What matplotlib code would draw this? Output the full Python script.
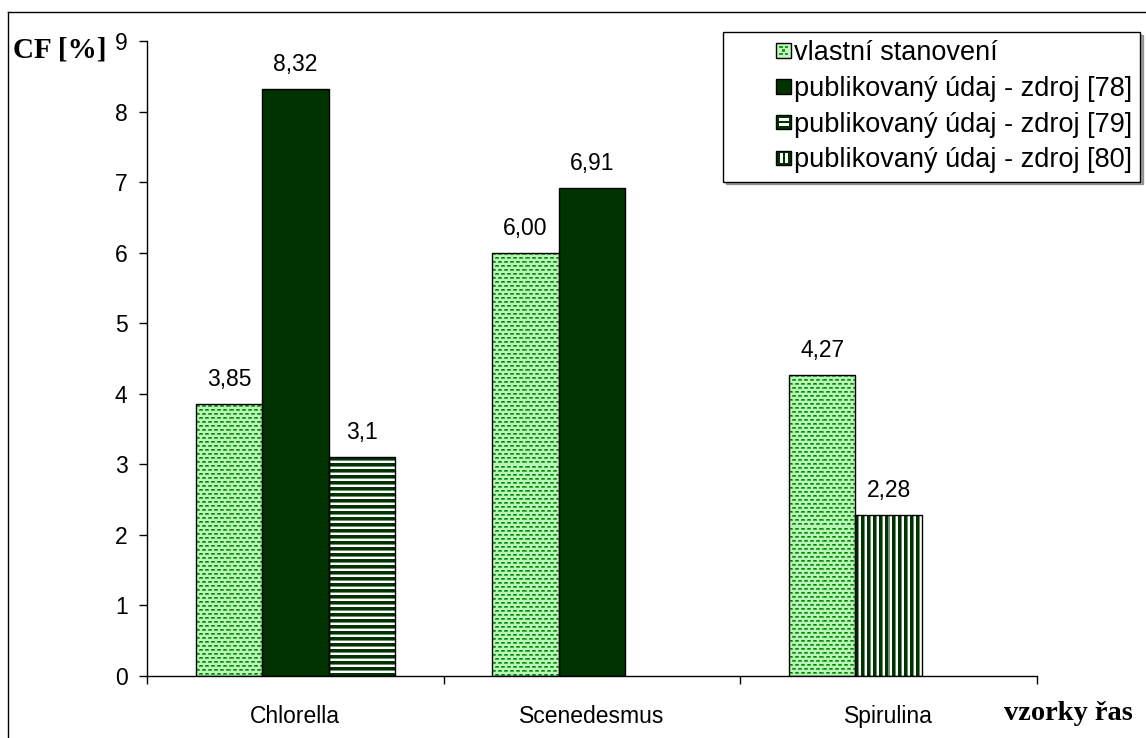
import numpy as np
import matplotlib
matplotlib.use("Agg")
import matplotlib.pyplot as plt
from matplotlib.lines import Line2D
from matplotlib.patches import Rectangle
from matplotlib.legend_handler import HandlerBase

# ---- data -------------------------------------------------------------
categories = ["Chlorella", "Scenedesmus", "Spirulina"]
series_names = [
    "vlastní stanovení",
    "publikovaný údaj - zdroj [78]",
    "publikovaný údaj - zdroj [79]",
    "publikovaný údaj - zdroj [80]",
]
own_values = [3.85, 6.00, 4.27]
src78_values = [8.32, 6.91, None]
src79_values = [3.1, None, None]
src80_values = [None, None, 2.28]
# decimals shown in each value label
own_decimals = [2, 2, 2]
src78_decimals = [2, 2, None]
src79_decimals = [1, None, None]
src80_decimals = [None, None, 2]
y_ticks = [0, 1, 2, 3, 4, 5, 6, 7, 8, 9]

series_values = [own_values, src78_values, src79_values, src80_values]
series_decimals = [own_decimals, src78_decimals, src79_decimals, src80_decimals]
series_fill = ["dots", "solid", "hstripes", "vstripes"]

DARK = (0, 51, 0)
DARK_HEX = "#003300"

# ---- figure -----------------------------------------------------------
W, H, DPI = 1146, 738, 100
fig = plt.figure(figsize=(W / DPI, H / DPI), dpi=DPI, facecolor="white")
ax = fig.add_axes([147 / W, 1 - 676 / H, (1037 - 147) / W, (676 - 41) / H])
ax.set_xlim(-0.5, len(categories) - 0.5)
ax.set_ylim(0, 9)

SANS = ["Liberation Sans", "DejaVu Sans"]
SERIF = ["Liberation Serif", "DejaVu Serif"]
TXT = 16.5


def texture(kind, h, w):
    yy, xx = np.mgrid[0:h, 0:w]
    img = np.zeros((h, w, 3), dtype=np.uint8)
    if kind == "dots":
        img[:] = (185, 245, 185)
        row = yy // 4
        shift = 3 * (row % 2)
        xm = (xx + shift) % 6
        ym = yy % 4
        dash = (ym >= 1) & (ym <= 2) & (xm <= 3)
        img[dash] = (60, 175, 60)
        core = (ym == 1) & (xm >= 1) & (xm <= 2)
        img[core] = (0, 125, 0)
    elif kind == "hstripes":
        img[:] = (255, 255, 255)
        m = yy % 6
        img[m <= 2] = DARK
        img[m == 3] = (110, 140, 110)
    elif kind == "vstripes":
        img[:] = (255, 255, 255)
        m = xx % 6
        img[m <= 2] = DARK
        img[m == 3] = (110, 140, 110)
    else:
        img[:] = DARK
    return img


width = 0.224
for ci, cat in enumerate(categories):
    slot = -1
    for si, vals in enumerate(series_values):
        v = vals[ci]
        if v is None:
            continue
        x = ci + slot * width
        slot += 1
        bar = ax.bar(x, v, width=width, facecolor="none", edgecolor="black",
                     linewidth=1.0, zorder=3)[0]
        # fill the bar with its pattern, clipped to the bar outline
        (px0, py0), (px1, py1) = ax.transData.transform([(x - width / 2, 0), (x + width / 2, v)])
        pw, ph = max(int(round(px1 - px0)), 1), max(int(round(py1 - py0)), 1)
        im = ax.imshow(texture(series_fill[si], ph, pw),
                       extent=(x - width / 2, x + width / 2, 0, v),
                       origin="upper", interpolation="nearest", aspect="auto", zorder=2)
        im.set_clip_path(bar)
        d = series_decimals[si][ci]
        label = f"{v:.{d}f}".replace(".", ",")
        ax.annotate(label, xy=(x, v), xytext=(0, 13), textcoords="offset pixels",
                    ha="center", va="bottom", fontsize=TXT, family=SANS, color="black")

ax.set_xlim(-0.5, len(categories) - 0.5)
ax.set_ylim(0, 9)

# ---- axes styling -----------------------------------------------------
for s in ("top", "right"):
    ax.spines[s].set_visible(False)
for s in ("left", "bottom"):
    ax.spines[s].set_linewidth(1.0)
    ax.spines[s].set_color("black")

ax.set_yticks(y_ticks)
ax.set_yticklabels([str(t) for t in y_ticks], family=SANS, fontsize=TXT)
ax.tick_params(axis="y", direction="out", length=6, width=1, pad=8)

ax.set_xticks(np.arange(len(categories) + 1) - 0.5)
ax.set_xticklabels([])
ax.set_xticks(np.arange(len(categories)), minor=True)
ax.set_xticklabels(categories, minor=True, family=SANS, fontsize=TXT)
ax.tick_params(axis="x", which="major", direction="out", length=6, width=1)
ax.tick_params(axis="x", which="minor", length=0, pad=21)

fig.text(13 / W, 1 - 50 / H, "CF [%]", family=SERIF, fontweight="bold",
         fontsize=21, ha="left", va="center")
fig.text(1133 / W, 1 - 713 / H, "vzorky řas", family=SERIF, fontweight="bold",
         fontsize=20.5, ha="right", va="center")


# ---- legend -----------------------------------------------------------
class PatternHandler(HandlerBase):
    def create_artists(self, legend, orig_handle, xdescent, ydescent,
                       width, height, fontsize, trans):
        kind = orig_handle.get_label()
        s = 10.5
        x0 = -xdescent + width - s
        y0 = -ydescent + (height - s) / 2
        arts = []
        if kind == "dots":
            arts.append(Rectangle((x0, y0), s, s, facecolor="#c0f5c0",
                                  edgecolor="black", lw=1, transform=trans))
            for fx, fy in [(0.18, 0.18), (0.58, 0.18), (0.38, 0.43), (0.18, 0.68), (0.58, 0.68)]:
                arts.append(Rectangle((x0 + fx * s, y0 + fy * s), 0.24 * s, 0.16 * s,
                                      facecolor="#1f9a1f", edgecolor="none", transform=trans))
        else:
            arts.append(Rectangle((x0, y0), s, s, facecolor=DARK_HEX,
                                  edgecolor="black", lw=1, transform=trans))
            if kind == "hstripes":
                for fy in (0.22, 0.58):
                    arts.append(Rectangle((x0 + 0.15 * s, y0 + fy * s), 0.7 * s, 0.2 * s,
                                          facecolor="white", edgecolor="none", transform=trans))
            elif kind == "vstripes":
                for fx in (0.22, 0.58):
                    arts.append(Rectangle((x0 + fx * s, y0 + 0.15 * s), 0.2 * s, 0.7 * s,
                                          facecolor="white", edgecolor="none", transform=trans))
        return arts


LEG = 19.5
handles = [Rectangle((0, 0), 1, 1, label=k) for k in series_fill]
handler = PatternHandler()
leg = ax.legend(handles, series_names, handler_map={Rectangle: handler},
                loc="upper right", bbox_to_anchor=(1140 / W, 1 - 32 / H),
                bbox_transform=fig.transFigure, borderaxespad=0,
                prop={"family": SANS, "size": LEG}, frameon=True, fancybox=False,
                shadow=True, handlelength=2.2, handleheight=0.6, handletextpad=0.1,
                labelspacing=0.36, borderpad=0.3, framealpha=1)
leg.get_frame().set_edgecolor("black")
leg.get_frame().set_linewidth(1.0)
leg.set_zorder(5)

# ---- page border --------------------------------------------------------
fig.add_artist(Line2D([8 / W, 1], [1 - 12 / H, 1 - 12 / H], color="black", lw=1.0,
                      transform=fig.transFigure))
fig.add_artist(Line2D([8 / W, 8 / W], [0, 1 - 12 / H], color="black", lw=1.0,
                      transform=fig.transFigure))

fig.savefig("out.png", dpi=DPI, facecolor="white")
